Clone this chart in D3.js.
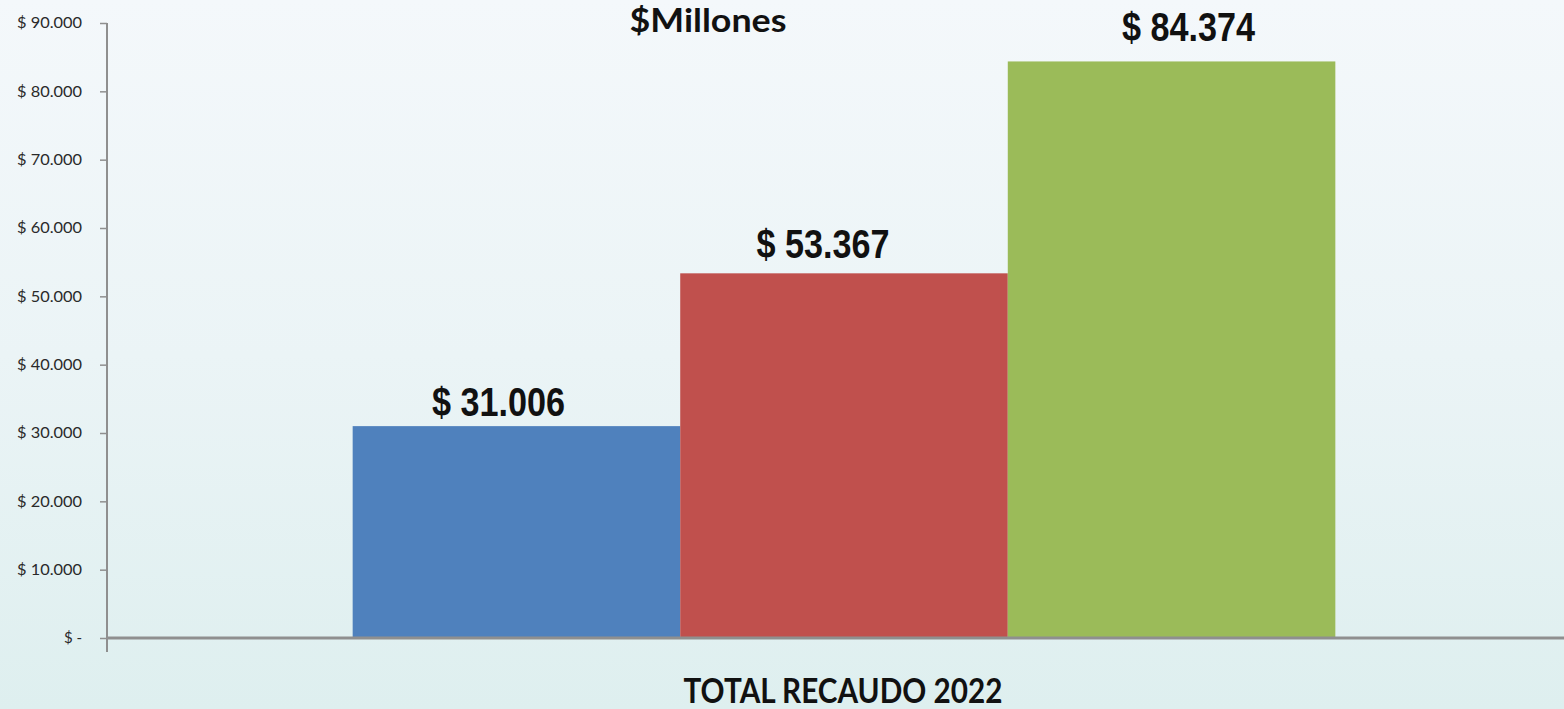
<!DOCTYPE html>
<html>
<head>
<meta charset="utf-8">
<script src="https://cdn.jsdelivr.net/npm/d3@7"></script>
<style>
  html, body { margin: 0; padding: 0; overflow: hidden; }
  svg { display: block; }
</style>
</head>
<body>
<svg id="chart" width="1564" height="709"></svg>
<script>
// ---- data ----
const categories = ["TOTAL RECAUDO 2022"];
const seriesNames = ["Serie 1", "Serie 2", "Serie 3"];
const seriesValues = [31006, 53367, 84374];
const yTicks = [0, 10000, 20000, 30000, 40000, 50000, 60000, 70000, 80000, 90000];
const yTickLabels = ["$ -", "$ 10.000", "$ 20.000", "$ 30.000", "$ 40.000", "$ 50.000", "$ 60.000", "$ 70.000", "$ 80.000", "$ 90.000"];
const valueLabels = ["$ 31.006", "$ 53.367", "$ 84.374"];
const titleText = "$Millones";

// ---- style / layout ----
const colors = ["#4f81bd", "#c0504d", "#9bbb59"];
const labelShiftX = [-18, -21, 17];   // manual label nudges as in the original
const labelGap = [10, 15, 20];

const W = 1564, H = 709;
const plot = { left: 107, right: 1581, top: 23, bottom: 638 };

const svg = d3.select("#chart");
const defs = svg.append("defs");
const grad = defs.append("linearGradient").attr("id", "bg").attr("x1", 0).attr("y1", 0).attr("x2", 0).attr("y2", 1);
grad.append("stop").attr("offset", "0%").attr("stop-color", "#f4f8fb");
grad.append("stop").attr("offset", "50%").attr("stop-color", "#ebf4f6");
grad.append("stop").attr("offset", "100%").attr("stop-color", "#deefef");
svg.append("rect").attr("width", W).attr("height", H).attr("fill", "url(#bg)");

const y = d3.scaleLinear().domain([0, 90000]).range([plot.bottom, plot.top]);
const x0 = d3.scaleBand().domain(categories).range([plot.left, plot.right]).padding(0);
const x1 = d3.scaleBand().domain(seriesNames).range([0, x0.bandwidth()]).paddingInner(0).paddingOuter(0.75);

// bars
const g = svg.append("g").attr("transform", `translate(${x0(categories[0])},0)`);
g.selectAll("rect.bar").data(seriesValues).join("rect")
  .attr("class", "bar")
  .attr("x", (d, i) => x1(seriesNames[i]))
  .attr("width", x1.bandwidth())
  .attr("y", d => y(d))
  .attr("height", d => y(0) - y(d))
  .attr("fill", (d, i) => colors[i]);

// value labels
g.selectAll("text.val").data(seriesValues).join("text")
  .attr("class", "val")
  .attr("x", (d, i) => x1(seriesNames[i]) + x1.bandwidth() / 2 + labelShiftX[i])
  .attr("y", (d, i) => y(d) - labelGap[i])
  .attr("text-anchor", "middle")
  .attr("font-family", "'Liberation Sans Narrow', 'Arial Narrow', 'Liberation Sans', Arial, sans-serif")
  .attr("font-weight", "bold")
  .attr("font-size", 40)
  .attr("fill", "#111")
  .text((d, i) => valueLabels[i])
  .each(function() { const len = this.getComputedTextLength(); if (Math.abs(len - 133) > 3) { d3.select(this).attr("textLength", 133).attr("lengthAdjust", "spacingAndGlyphs"); } });

// y axis
const yAxis = d3.axisLeft(y).tickValues(yTicks).tickFormat((d, i) => yTickLabels[i]).tickSize(7).tickSizeOuter(0);
const ya = svg.append("g").attr("transform", `translate(${plot.left},0)`).call(yAxis);
ya.select(".domain").attr("stroke", "#8f8f8f").attr("stroke-width", 2).attr("d", `M0,${plot.top}V${plot.bottom + 14}`);
ya.selectAll(".tick line").attr("stroke", "#8f8f8f").attr("stroke-width", 1.5);
ya.selectAll(".tick text")
  .attr("x", -25)
  .attr("font-family", "Lato, 'Open Sans', sans-serif")
  .attr("font-size", 15)
  .attr("fill", "#2a2a2a")
  .each(function(d, i) { if (i > 0) d3.select(this).attr("textLength", 65).attr("lengthAdjust", "spacingAndGlyphs"); });

// x axis line
const xAxis = d3.axisBottom(x0).tickSize(0).tickFormat("");
const xa = svg.append("g").attr("transform", `translate(0,${y(0)})`).call(xAxis);
xa.select(".domain").attr("stroke", "#8f8f8f").attr("stroke-width", 3).attr("d", `M${plot.left},0H${plot.right}`);
xa.selectAll(".tick").remove();

// category label
svg.append("text")
  .attr("x", x0(categories[0]) + x0.bandwidth() / 2 - 1)
  .attr("y", 703)
  .attr("text-anchor", "middle")
  .attr("font-family", "Lato, 'Open Sans', sans-serif")
  .attr("font-weight", "bold")
  .attr("font-size", 34)
  .attr("fill", "#111")
  .attr("textLength", 319).attr("lengthAdjust", "spacingAndGlyphs")
  .text(categories[0]);

// title
svg.append("text")
  .attr("x", 708)
  .attr("y", 32)
  .attr("text-anchor", "middle")
  .attr("font-family", "Lato, 'Open Sans', sans-serif")
  .attr("font-weight", "bold")
  .attr("font-size", 32)
  .attr("fill", "#111")
  .attr("textLength", 157).attr("lengthAdjust", "spacingAndGlyphs")
  .text(titleText);
</script>
</body>
</html>
